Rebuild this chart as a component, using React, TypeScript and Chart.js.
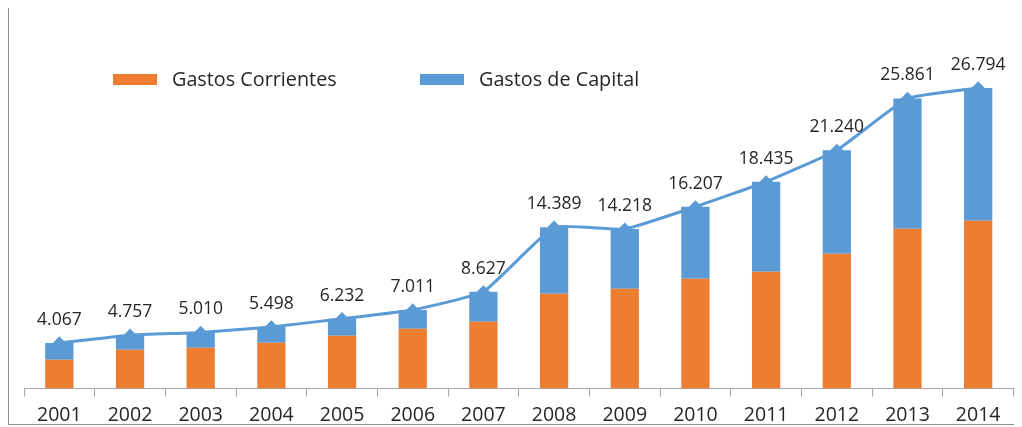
import React, { useEffect, useRef } from "react";
import { Chart, registerables } from "chart.js";

Chart.register(...registerables);

const years = ["2001", "2002", "2003", "2004", "2005", "2006", "2007", "2008", "2009", "2010", "2011", "2012", "2013", "2014"];
const gastosCorrientes = [2580, 3470, 3650, 4095, 4720, 5340, 5960, 8460, 8900, 9790, 10410, 12020, 14240, 14950];
const gastosCapital = [1487, 1287, 1360, 1403, 1512, 1671, 2667, 5929, 5318, 6417, 8025, 9220, 11621, 11844];
const totales = [4067, 4757, 5010, 5498, 6232, 7011, 8627, 14389, 14218, 16207, 18435, 21240, 25861, 26794];

const ORANGE = "#ED7D31";
const BLUE = "#5B9BD5";
const FONT = "'Open Sans', 'Liberation Sans', sans-serif";
const TEXT = "#262626";

function fmt(v: number): string {
  const th = Math.floor(v / 1000);
  const rest = String(v % 1000).padStart(3, "0");
  return th > 0 ? `${th}.${rest}` : String(v);
}

const totalLabels = {
  id: "totalLabels",
  afterDatasetsDraw(chart: any) {
    const ctx = chart.ctx;
    const idx = chart.data.datasets.findIndex((d: any) => d.type === "line");
    if (idx < 0) return;
    const meta = chart.getDatasetMeta(idx);
    const data = chart.data.datasets[idx].data;
    ctx.save();
    ctx.font = `17.5px ${FONT}`;
    ctx.fillStyle = TEXT;
    ctx.textAlign = "center";
    ctx.textBaseline = "middle";
    meta.data.forEach((pt: any, i: number) => {
      ctx.fillText(fmt(data[i]), pt.x, pt.y - 23);
    });
    ctx.restore();
  },
};

const innerLegend = {
  id: "innerLegend",
  afterDraw(chart: any) {
    const ctx = chart.ctx;
    const items = chart.data.datasets.filter((d: any) => d.type !== "line");
    const starts = [104, 411];
    ctx.save();
    ctx.font = `19.8px ${FONT}`;
    ctx.textBaseline = "middle";
    ctx.textAlign = "left";
    items.forEach((d: any, i: number) => {
      const x = starts[i];
      const y = 66;
      ctx.fillStyle = d.backgroundColor;
      ctx.fillRect(x, y, 44, 11);
      ctx.fillStyle = TEXT;
      ctx.fillText(d.label, x + 59, y + 6);
    });
    ctx.restore();
  },
};

export default function App() {
  const ref = useRef<HTMLCanvasElement | null>(null);
  useEffect(() => {
    if (!ref.current) return;
    const chart = new Chart(ref.current, {
      type: "bar",
      data: {
        labels: years,
        datasets: [
          {
            type: "line",
            label: "Total",
            data: totales,
            borderColor: BLUE,
            backgroundColor: BLUE,
            borderWidth: 3,
            pointStyle: "rectRot",
            pointRadius: 4.5,
            pointBackgroundColor: BLUE,
            pointBorderColor: BLUE,
            tension: 0.12,
            order: 0,
          } as any,
          {
            type: "bar",
            label: "Gastos Corrientes",
            data: gastosCorrientes,
            backgroundColor: ORANGE,
            barPercentage: 0.4,
            categoryPercentage: 1,
            order: 1,
          },
          {
            type: "bar",
            label: "Gastos de Capital",
            data: gastosCapital,
            backgroundColor: BLUE,
            barPercentage: 0.4,
            categoryPercentage: 1,
            order: 1,
          },
        ],
      },
      options: {
        animation: false,
        responsive: false,
        maintainAspectRatio: false,
        layout: { padding: { left: 15, right: 5, top: 44, bottom: -10 } },
        plugins: {
          legend: { display: false },
          tooltip: { enabled: false },
        },
        scales: {
          x: {
            stacked: true,
            grid: {
              offset: true,
              drawOnChartArea: false,
              tickLength: 8,
              color: "#a6a6a6",
            },
            border: { color: "#a6a6a6", width: 1 },
            ticks: {
              color: TEXT,
              font: { family: FONT, size: 19.5 },
              padding: 7,
              maxRotation: 0,
            },
          },
          y: {
            stacked: true,
            display: false,
            min: 0,
            max: 30000,
          },
        },
      },
      plugins: [totalLabels, innerLegend],
    });
    return () => chart.destroy();
  }, []);
  return (
    <div
      style={{
        marginTop: -1,
        width: 1020,
        height: 416,
        border: "1px solid #8c8c8c",
        background: "#fff",
      }}
    >
      <canvas ref={ref} width={1012} height={416} style={{ display: "block" }} />
    </div>
  );
}
